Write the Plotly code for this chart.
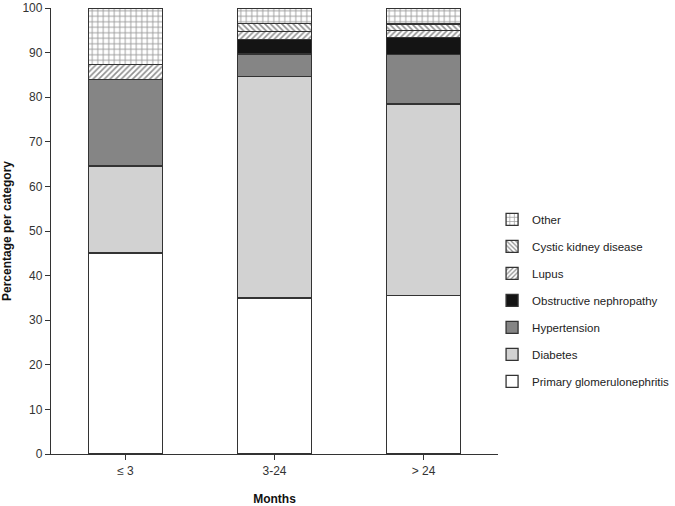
import plotly.graph_objects as go

categories = ["≤ 3", "3-24", "> 24"]
series_names = ["Primary glomerulonephritis", "Diabetes", "Hypertension",
                "Obstructive nephropathy", "Lupus", "Cystic kidney disease", "Other"]
primary = [45.1, 35.0, 35.5]
diabetes = [19.5, 49.7, 43.0]
hypertension = [19.4, 5.0, 11.0]
obstructive = [0.0, 3.3, 3.9]
lupus = [3.3, 1.8, 1.6]
cystic = [0.0, 1.7, 1.4]
other = [12.7, 3.5, 3.6]
y_ticks = [0, 10, 20, 30, 40, 50, 60, 70, 80, 90, 100]

values = [primary, diabetes, hypertension, obstructive, lupus, cystic, other]
styles = [
    dict(color="white"),
    dict(color="#d2d2d2"),
    dict(color="#858585"),
    dict(color="#141414"),
    dict(color="white", pattern=dict(shape="/", fgcolor="#222", bgcolor="white", size=4, solidity=0.4)),
    dict(color="white", pattern=dict(shape="\\", fgcolor="#222", bgcolor="white", size=4, solidity=0.4)),
    dict(color="white", pattern=dict(shape="+", fgcolor="#333", bgcolor="white", size=5.5, solidity=0.3)),
]

fig = go.Figure()
n = len(series_names)
for i, (name, vals, st) in enumerate(zip(series_names, values, styles)):
    marker = dict(line=dict(color="#333", width=1.3), **st)
    fig.add_trace(go.Bar(x=categories, y=vals, name=name, marker=marker,
                         width=0.5, legendgroup=f"g{i}", legendrank=n - i))

fig.update_layout(
    barmode="stack",
    width=675, height=506,
    margin=dict(l=51, r=177, t=8, b=52, autoexpand=False),
    paper_bgcolor="white", plot_bgcolor="white",
    font=dict(family="Liberation Sans, Arial, sans-serif", size=12, color="#333"),
    legend=dict(traceorder="grouped", tracegroupgap=8,
                xref="container", yref="container",
                x=0.729, xanchor="left", y=0.595, yanchor="top",
                font=dict(size=11.5, color="#222"), bgcolor="rgba(0,0,0,0)"),
    xaxis=dict(range=[-0.5, 2.5], showline=True, linecolor="#333", linewidth=1.3,
               ticks="outside", ticklen=5, tickcolor="#333", tickwidth=1.2,
               automargin=False,
               title=dict(text="<b>Months</b>", font=dict(size=12, color="#111"), standoff=18),
               showgrid=False, zeroline=False),
    yaxis=dict(range=[0, 100], tickvals=y_ticks, showline=True, linecolor="#333", linewidth=1.3,
               ticks="outside", ticklen=5, tickcolor="#333", tickwidth=1.2,
               automargin=False,
               title=dict(text="<b>Percentage per category</b>", font=dict(size=12, color="#111"), standoff=8),
               showgrid=False, zeroline=False),
)

fig.write_html("out.html", config={"displayModeBar": False},
               post_script="document.body.style.margin='0';document.body.style.overflow='hidden';")
